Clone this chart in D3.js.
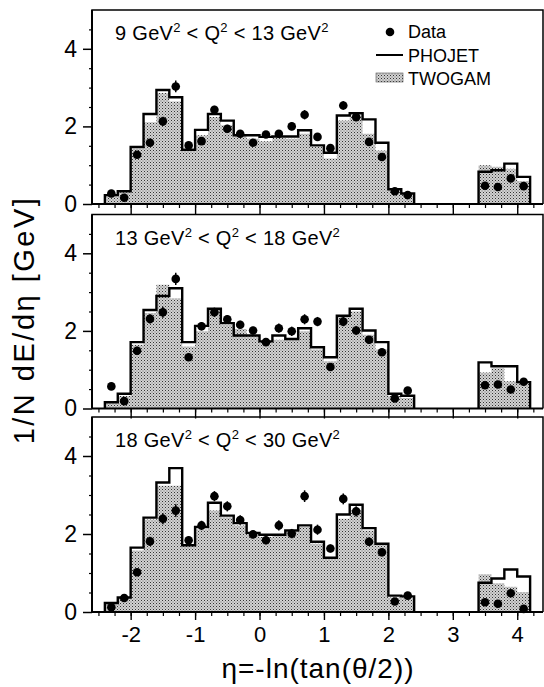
<!DOCTYPE html>
<html><head><meta charset="utf-8">
<script src="https://cdn.jsdelivr.net/npm/d3@7"></script>
<style>body{margin:0;background:#fff}svg{display:block}text{font-family:"Liberation Sans",Arial,sans-serif;fill:#000}</style>
</head><body><svg id="c" width="544" height="687"></svg>
<script>
// Bin lower edges (width 0.2)
const binLo = [-2.4,-2.2,-2.0,-1.8,-1.6,-1.4,-1.2,-1.0,-0.8,-0.6,-0.4,-0.2,0.0,0.2,0.4,0.6,0.8,1.0,1.2,1.4,1.6,1.8,2.0,2.2,3.4,3.6,3.8,4.0];
const binWidth = 0.2;
const segments = [[0,24],[24,28]];
const panelLabels = [["9","13"],["13","18"],["18","30"]];
const xTicks = [-2,-1,0,1,2,3,4];
const yTicks = [0,2,4];

const phojet1 = [0.23,0.33,1.47,2.32,2.94,2.75,1.40,1.91,2.32,2.15,1.77,1.77,1.73,1.74,1.74,1.90,1.51,1.32,2.28,2.34,2.18,1.58,0.38,0.27, 0.83,0.87,1.04,0.70];
const twogam1 = [0.23,0.30,1.43,2.11,2.86,2.64,1.38,1.77,2.24,2.03,1.75,1.68,1.62,1.70,1.68,1.81,1.47,1.17,2.15,2.28,1.81,1.38,0.36,0.27, 1.00,0.96,0.91,0.59];
const data1    = [0.27,0.16,1.27,1.58,2.13,3.03,1.51,1.62,2.43,1.94,1.81,1.58,1.79,1.81,2.00,2.30,1.73,1.44,2.54,2.24,1.60,1.21,0.33,0.23, 0.47,0.44,0.66,0.46];
const err1     = [0.06,0.08,0.08,0.09,0.12,0.15,0.08,0.08,0.10,0.10,0.09,0.08,0.09,0.08,0.10,0.12,0.09,0.08,0.11,0.10,0.08,0.07,0.05,0.05, 0.06,0.06,0.07,0.06];

const phojet2 = [0.16,0.38,1.71,2.54,2.90,3.10,1.71,2.13,2.57,2.20,1.88,1.88,1.73,1.88,1.79,2.07,1.58,1.32,2.39,2.57,2.01,1.71,0.38,0.33, 1.19,1.09,1.09,0.68];
const twogam2 = [0.15,0.32,1.64,2.46,3.19,2.84,1.60,1.99,2.59,2.16,2.05,1.86,1.73,1.77,1.82,1.99,1.52,1.22,2.37,2.50,1.90,1.52,0.32,0.27, 0.93,1.04,0.70,0.68];
const data2    = [0.57,0.19,1.49,2.31,2.48,3.34,1.32,2.12,2.48,2.30,2.16,2.01,1.71,2.07,1.99,2.30,2.24,1.07,2.24,2.01,1.77,1.45,0.26,0.46, 0.60,0.62,0.49,0.69];
const err2     = [0.06,0.06,0.10,0.12,0.14,0.16,0.09,0.11,0.12,0.11,0.10,0.10,0.10,0.12,0.12,0.13,0.12,0.08,0.12,0.11,0.10,0.09,0.05,0.06, 0.07,0.07,0.06,0.07];

const phojet3 = [0.23,0.37,1.65,2.42,3.32,3.69,1.71,2.18,2.80,2.47,2.28,2.03,1.98,1.98,2.09,2.22,1.80,1.39,2.50,2.75,2.15,1.75,0.42,0.40, 0.75,0.86,1.09,0.91];
const twogam3 = [0.20,0.36,1.58,2.37,3.24,3.24,1.69,2.12,2.60,2.43,2.22,2.01,1.92,1.95,2.05,2.18,1.75,1.36,2.39,2.60,2.09,1.73,0.37,0.37, 0.97,0.74,0.65,0.51];
const data3    = [0.12,0.36,1.02,1.81,2.39,2.60,1.84,2.22,2.97,2.71,2.36,1.99,1.84,2.22,2.01,2.97,2.11,1.63,2.90,2.58,1.80,1.53,0.27,0.42, 0.25,0.21,0.48,0.08];
const err3     = [0.06,0.06,0.09,0.12,0.14,0.16,0.10,0.12,0.13,0.13,0.12,0.10,0.10,0.13,0.12,0.15,0.13,0.10,0.14,0.13,0.11,0.09,0.05,0.06, 0.06,0.06,0.07,0.06];

const panels = [
  {phojet:phojet1, twogam:twogam1, data:data1, err:err1, top:10, bottom:204},
  {phojet:phojet2, twogam:twogam2, data:data2, err:err2, top:214.5, bottom:408.5},
  {phojet:phojet3, twogam:twogam3, data:data3, err:err3, top:417, bottom:612}
];

const svg = d3.select("#c");
const defs = svg.append("defs");
const pat = defs.append("pattern").attr("id","stip").attr("patternUnits","userSpaceOnUse").attr("width",3).attr("height",3);
pat.append("rect").attr("width",3).attr("height",3).attr("fill","#d2d2d2");
pat.append("rect").attr("x",0).attr("y",0).attr("width",1).attr("height",1).attr("fill","#333");
pat.append("rect").attr("x",1.5).attr("y",1.5).attr("width",1).attr("height",1).attr("fill","#6a6a6a");

const xL = 92, xR = 543;
const x = d3.scaleLinear().domain([-2.6,4.4]).range([xL,xR]);

panels.forEach((p,pi)=>{
  const y = d3.scaleLinear().domain([0,5]).range([p.bottom,p.top]);
  const g = svg.append("g");
  segments.forEach(([a,b])=>{
    const pts = d3.range(a,b).map(i=>[binLo[i], p.twogam[i]]);
    pts.push([binLo[b-1]+binWidth, p.twogam[b-1]]);
    g.append("path").attr("d", d3.area().x(d=>x(d[0])).y0(y(0)).y1(d=>y(d[1])).curve(d3.curveStepAfter)(pts))
      .attr("fill","url(#stip)");
  });
  segments.forEach(([a,b])=>{
    const pts = [[binLo[a],0]].concat(d3.range(a,b).map(i=>[binLo[i], p.phojet[i]]));
    pts.push([binLo[b-1]+binWidth, p.phojet[b-1]]);
    pts.push([binLo[b-1]+binWidth, 0]);
    g.append("path").attr("d", d3.line().x(d=>x(d[0])).y(d=>y(d[1])).curve(d3.curveStepAfter)(pts))
      .attr("fill","none").attr("stroke","#000").attr("stroke-width",2.4).attr("stroke-linejoin","miter");
  });
  // data
  binLo.forEach((lo,i)=>{
    const cx = x(lo+binWidth/2);
    g.append("line").attr("x1",cx).attr("x2",cx).attr("y1",y(p.data[i]-p.err[i])).attr("y2",y(p.data[i]+p.err[i]))
      .attr("stroke","#000").attr("stroke-width",1.5);
    g.append("circle").attr("cx",cx).attr("cy",y(p.data[i])).attr("r",4.3).attr("fill","#000");
  });
  // frame
  g.append("path").attr("d",`M${xL},${p.bottom}V${p.top}H${xR}V${p.bottom}`).attr("fill","none").attr("stroke","#000").attr("stroke-width",1.5);
  // x axis
  const xa = g.append("g").attr("transform",`translate(0,${p.bottom})`)
    .call(d3.axisBottom(x).tickValues(d3.range(-2.5,4.26,0.25)).tickSize(4).tickFormat(""));
  xa.select(".domain").attr("stroke-width",2).attr("d",`M${xL},0H${xR}`);
  xa.selectAll(".tick line").attr("stroke-width",1.2);
  const xb = g.append("g").attr("transform",`translate(0,${p.bottom})`)
    .call(d3.axisBottom(x).tickValues(xTicks).tickSize(pi<2?10:8).tickPadding(6).tickFormat(d=>pi===2?d:""));
  xb.select(".domain").remove();
  xb.selectAll(".tick line").attr("stroke-width",1.4);
  xb.selectAll("text").attr("font-size",22).attr("dy","0.71em").attr("font-family","Liberation Sans, Arial, sans-serif");
  // y axis
  const ya = g.append("g").attr("transform",`translate(${xL},0)`)
    .call(d3.axisLeft(y).tickValues(d3.range(0.5,5,0.5).filter(v=>v%2!==0)).tickSize(3).tickFormat(""));
  ya.select(".domain").remove();
  ya.selectAll(".tick line").attr("stroke-width",1.2);
  const yb = g.append("g").attr("transform",`translate(${xL},0)`)
    .call(d3.axisLeft(y).tickValues(yTicks).tickSize(9).tickPadding(6).tickFormat(d3.format("d")));
  yb.select(".domain").attr("stroke-width",2).attr("d",`M0,${p.bottom}V${p.top}`);
  yb.selectAll(".tick line").attr("stroke-width",1.5);
  yb.selectAll("text").attr("font-size",23).attr("font-family","Liberation Sans, Arial, sans-serif");
  // panel label
  const lab = panelLabels[pi];
  const t = g.append("text").attr("x",115).attr("y",p.top+30).attr("font-size",20).attr("letter-spacing",0.3);
  t.append("tspan").text(lab[0]+" GeV");
  t.append("tspan").text("2").attr("font-size",13).attr("dy",-8);
  t.append("tspan").text(" < Q").attr("dy",8);
  t.append("tspan").text("2").attr("font-size",13).attr("dy",-8);
  t.append("tspan").text(" < "+lab[1]+" GeV").attr("dy",8);
  t.append("tspan").text("2").attr("font-size",13).attr("dy",-8);
});

// legend
const lg = svg.append("g");
lg.append("circle").attr("cx",390).attr("cy",32).attr("r",4.3).attr("fill","#000");
lg.append("text").attr("x",408).attr("y",38).attr("font-size",18).text("Data");
lg.append("line").attr("x1",376).attr("x2",403).attr("y1",55).attr("y2",55).attr("stroke","#000").attr("stroke-width",2);
lg.append("text").attr("x",408).attr("y",62).attr("font-size",18).text("PHOJET");
lg.append("rect").attr("x",376).attr("y",73).attr("width",27).attr("height",9).attr("fill","url(#stip)").attr("stroke","#555").attr("stroke-width",0.6);
lg.append("text").attr("x",408).attr("y",85).attr("font-size",18).text("TWOGAM");

// axis titles
svg.append("text").attr("x",318).attr("y",678).attr("text-anchor","middle").attr("font-size",28).attr("letter-spacing",1).text("η=-ln(tan(θ/2))");
svg.append("text").attr("transform","translate(34,320) rotate(-90)").attr("text-anchor","middle").attr("font-size",29).attr("letter-spacing",2.5).text("1/N dE/dη [GeV]");
</script></body></html>
